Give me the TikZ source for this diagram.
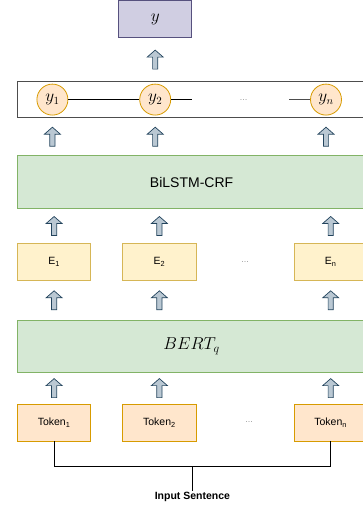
\documentclass[tikz,border=0pt]{standalone}
\usepackage{fontspec}
\setmainfont{Liberation Sans}
\usepackage{tikz}
\usetikzlibrary{positioning}
\usetikzlibrary{calc}

\definecolor{OutFill}{HTML}{D0CEE2}
\definecolor{OutDraw}{HTML}{56517E}
\definecolor{TagFill}{HTML}{FFE6CC}
\definecolor{TagDraw}{HTML}{D79B00}
\definecolor{EmbFill}{HTML}{FFF2CC}
\definecolor{EmbDraw}{HTML}{D6B656}
\definecolor{LayerFill}{HTML}{D5E8D4}
\definecolor{LayerDraw}{HTML}{82B366}
\definecolor{ArrowFill}{HTML}{BAC8D3}
\definecolor{ArrowDraw}{HTML}{23445D}
\definecolor{FrameDraw}{HTML}{4D4D4D}

\tikzset{
	layerbox/.style={draw=LayerDraw, fill=LayerFill, line width=0.8pt,
		minimum width=348pt, inner sep=0pt, font=\fontsize{14}{16}\selectfont},
	smallbox/.style={draw=#1Draw, fill=#1Fill, line width=0.8pt,
		minimum width=73pt, minimum height=37pt, inner sep=0pt,
		font=\fontsize{10.5}{12}\selectfont},
	tagcircle/.style={circle, draw=TagDraw, fill=TagFill, line width=0.8pt,
		minimum size=31pt, inner sep=0pt, font=\fontsize{16}{18}\selectfont},
	upblock/.pic={
		\draw[draw=ArrowDraw, fill=ArrowFill, line width=0.7pt]
		(-2.6pt,-9.5pt) -- (-2.6pt,2.5pt) -- (-8pt,2.5pt) -- (0pt,9.5pt)
		-- (8pt,2.5pt) -- (2.6pt,2.5pt) -- (2.6pt,-9.5pt) -- cycle;
	},
	gapdots/.style={text=gray, font=\fontsize{8}{9}\selectfont}
}

\begin{document}
\begin{tikzpicture}
	\useasboundingbox (0,0) rectangle (363pt,-506pt);
	
	\node[
	draw=FrameDraw,
	line width=1.2pt,
	minimum width=348pt,
	minimum height=36pt,
	anchor=north west
	] (CRF) at (17pt,-81pt) {};
	
	\node[
	tagcircle,
	right=19.5pt of CRF.west
	] (Y1) {$y_1$};
	
	\node[
	tagcircle,
	right=71pt of Y1
	] (Y2) {$y_2$};
	
	\node[
	tagcircle,
	right=139pt of Y2
	] (Yn) {$y_n$};
	
	\coordinate[right=21pt of Y2.east] (Y2-End);
	\coordinate[left=21pt of Yn.west] (Yn-Start);
	\node[gapdots] (CRF-Dots) at ($(Y2)!0.5!(Yn)+(3pt,0)$) {\dots};
	
	\draw[line width=0.8pt] (Y1) -- (Y2);
	\draw[line width=0.8pt] (Y2) -- (Y2-End);
	\draw[line width=0.8pt, FrameDraw] (Yn-Start) -- (Yn);
	
	% ---
	
	\node[
	draw=OutDraw,
	fill=OutFill,
	line width=0.8pt,
	minimum width=73pt,
	minimum height=37pt,
	font=\fontsize{17}{19}\selectfont,
	above=45.5pt of Y2
	] (Output) {$y$};
	
	% ---
	
	\node[
	layerbox,
	minimum height=53pt,
	below=37pt of CRF
	] (BiLSTM) {BiLSTM-CRF};
	
	\node[
	smallbox=Emb,
	below=34pt of BiLSTM.south west,
	anchor=north west
	] (E1) {E\textsubscript{1}};
	
	\node[
	smallbox=Emb,
	minimum width=74pt,
	right=31pt of E1
	] (E2) {E\textsubscript{2}};
	
	\node[
	smallbox=Emb,
	right=97pt of E2
	] (En) {E\textsubscript{n}};
	
	\node[gapdots] (E-Dots) at ($(E2)!0.5!(En)$) {\dots};
	
	% ---
	
	\node[
	layerbox,
	minimum height=52pt,
	font=\fontsize{17}{19}\selectfont,
	below=39pt of E1.south west,
	anchor=north west
	] (BERT) {$BERT_q$};
	
	\node[
	smallbox=Tag,
	below=31pt of BERT.south west,
	anchor=north west
	] (Tok1) {Token\textsubscript{1}};
	
	\node[
	smallbox=Tag,
	minimum width=74pt,
	right=31pt of Tok1
	] (Tok2) {Token\textsubscript{2}};
	
	\node[
	smallbox=Tag,
	right=97pt of Tok2
	] (Tokn) {Token\textsubscript{n}};
	
	\node[gapdots] (Tok-Dots) at ($(Tok2)!0.5!(Tokn)+(4pt,0)$) {\dots};
	
	% ---
	
	\draw[line width=0.8pt] (Tok1.south) -- ++(0,-25pt) -| (Tokn.south)
	coordinate[pos=0.25] (Join);
	
	\node[
	font=\bfseries\fontsize{10.5}{12}\selectfont,
	inner sep=1pt,
	below=25pt of Join
	] (Sentence) {Input Sentence};
	
	\draw[line width=0.8pt] (Join) -- (Sentence.north);
	
	% ---
	
	\path (CRF.north -| Output) -- (Output.south) pic[midway] {upblock};
	
	\path (Y1 |- CRF.south) -- (Y1 |- BiLSTM.north) pic[midway] {upblock};
	\path (Y2 |- CRF.south) -- (Y2 |- BiLSTM.north) pic[midway] {upblock};
	\path (Yn |- CRF.south) -- (Yn |- BiLSTM.north) pic[midway] {upblock};
	
	\path (E1.north) -- (E1 |- BiLSTM.south) pic[midway] {upblock};
	\path (E2.north) -- (E2 |- BiLSTM.south) pic[midway] {upblock};
	\path (En.north) -- (En |- BiLSTM.south) pic[midway] {upblock};
	
	\path (E1.south) -- (E1 |- BERT.north) pic[midway] {upblock};
	\path (E2.south) -- (E2 |- BERT.north) pic[midway] {upblock};
	\path (En.south) -- (En |- BERT.north) pic[midway] {upblock};
	
	\path (Tok1.north) -- (Tok1 |- BERT.south) pic[midway] {upblock};
	\path (Tok2.north) -- (Tok2 |- BERT.south) pic[midway] {upblock};
	\path (Tokn.north) -- (Tokn |- BERT.south) pic[midway] {upblock};
\end{tikzpicture}
\end{document}
